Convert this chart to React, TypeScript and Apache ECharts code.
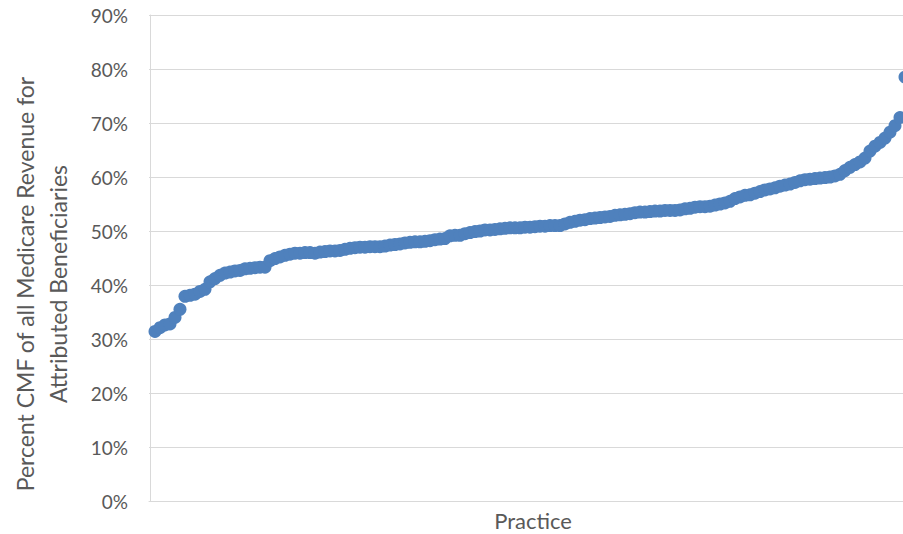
import React, { useEffect, useRef } from "react";
import * as echarts from "echarts";

const yTicks = ["0%", "10%", "20%", "30%", "40%", "50%", "60%", "70%", "80%", "90%"];
const xTitle = "Practice";
const yTitleLines = ["Percent CMF of all Medicare Revenue for", "Attributed Beneficiaries"];

// Percent values, practices sorted ascending
const cmfPercent = [
  31.4, 32.1, 32.6, 32.8, 34.0, 35.5, 37.9, 38.1, 38.3, 38.8,
  39.2, 40.6, 41.2, 41.8, 42.2, 42.4, 42.6, 42.7, 43.0, 43.1,
  43.2, 43.3, 43.3, 44.5, 44.9, 45.2, 45.5, 45.7, 45.9, 45.9,
  46.0, 46.0, 45.9, 46.1, 46.2, 46.3, 46.3, 46.4, 46.6, 46.8,
  46.9, 47.0, 47.0, 47.1, 47.1, 47.1, 47.2, 47.4, 47.5, 47.6,
  47.8, 47.9, 48.0, 48.0, 48.1, 48.2, 48.4, 48.5, 48.6, 49.1,
  49.2, 49.2, 49.5, 49.7, 49.9, 50.0, 50.2, 50.2, 50.3, 50.4,
  50.5, 50.6, 50.6, 50.6, 50.7, 50.7, 50.8, 50.9, 50.9, 51.0,
  51.0, 51.0, 51.3, 51.6, 51.8, 52.0, 52.1, 52.3, 52.4, 52.5,
  52.6, 52.7, 52.9, 53.0, 53.1, 53.2, 53.4, 53.5, 53.5, 53.6,
  53.7, 53.7, 53.8, 53.8, 53.8, 53.9, 54.1, 54.2, 54.4, 54.5,
  54.5, 54.6, 54.8, 55.0, 55.2, 55.5, 56.0, 56.3, 56.6, 56.7,
  57.0, 57.3, 57.6, 57.8, 58.0, 58.3, 58.5, 58.7, 59.0, 59.3,
  59.5, 59.6, 59.7, 59.8, 59.9, 60.0, 60.2, 60.5, 61.2, 61.8,
  62.3, 62.8, 63.5, 64.8, 65.7, 66.4, 67.2, 68.3, 69.5, 71.0,
  78.5,
];

const FONT = "Lato, 'Open Sans', sans-serif";
const TEXT = "#595959";
const GRIDC = "#d9d9d9";

export default function App() {
  const ref = useRef<HTMLDivElement>(null);
  useEffect(() => {
    if (!ref.current) return;
    const chart = echarts.init(ref.current, undefined, { renderer: "svg" });
    const data = cmfPercent.map((v, i) => [i + 1, v]);
    chart.setOption({
      animation: false,
      backgroundColor: "#ffffff",
      grid: {
        left: 149,
        top: 15,
        height: 486,
        width: 765,
        containLabel: false,
        outerBoundsMode: "none",
      },
      xAxis: {
        type: "value",
        min: -0.2,
        max: 152.8,
        axisLabel: { show: false },
        axisTick: { show: false },
        splitLine: { show: false },
        axisLine: { show: true, lineStyle: { color: GRIDC, width: 1 } },
      },
      yAxis: {
        type: "value",
        min: 0,
        max: 90,
        interval: 10,
        axisLabel: {
          formatter: (v: number) => yTicks[Math.round(v / 10)],
          color: TEXT,
          fontFamily: FONT,
          fontSize: 19,
          margin: 21,
        },
        axisTick: { show: false },
        axisLine: { show: true, lineStyle: { color: GRIDC, width: 1 } },
        splitLine: { show: true, lineStyle: { color: GRIDC, width: 1 } },
      },
      series: [
        {
          type: "scatter",
          data,
          symbol: "circle",
          symbolSize: 13,
          itemStyle: { color: "#4f81bd", opacity: 1 },
          clip: false,
        },
      ],
      graphic: [
        {
          type: "text",
          x: 533,
          y: 520,
          style: {
            text: xTitle,
            fill: TEXT,
            font: `22px ${FONT}`,
            textAlign: "center",
            textVerticalAlign: "middle",
          },
        },
        {
          type: "text",
          x: 41,
          y: 284,
          rotation: Math.PI / 2,
          style: {
            text: yTitleLines.join("\n"),
            fill: TEXT,
            font: `23px ${FONT}`,
            lineHeight: 33,
            textAlign: "center",
            textVerticalAlign: "middle",
          },
        },
      ],
    });
    return () => chart.dispose();
  }, []);
  return (
    <div
      ref={ref}
      style={{ position: "fixed", left: 0, top: 0, width: 903, height: 534, background: "#fff" }}
    />
  );
}
